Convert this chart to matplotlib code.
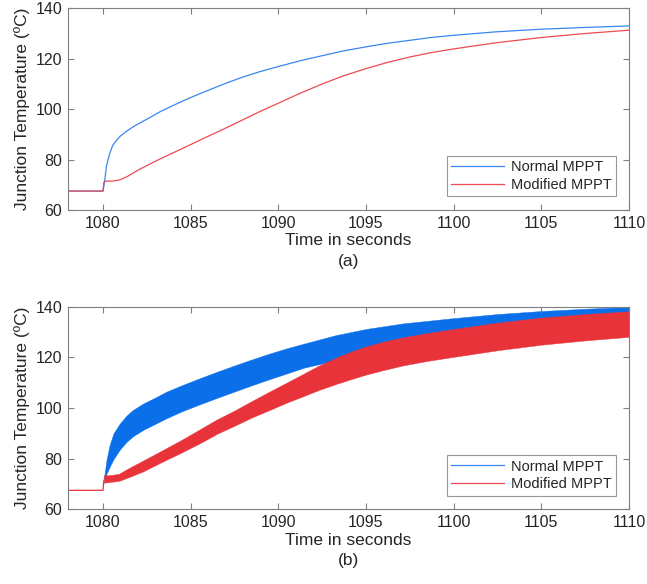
import matplotlib
matplotlib.use("Agg")
import matplotlib.pyplot as plt
from matplotlib.lines import Line2D

plt.rcParams['font.family'] = ['Liberation Sans', 'DejaVu Sans']

# (a) smooth junction temperature traces
t_normal = [1078, 1080.0, 1080.05, 1080.1, 1080.2, 1080.38, 1080.55, 1080.77, 1081.0,
            1081.34, 1081.8, 1082.3, 1082.67, 1083.25, 1084, 1084.57, 1085.15, 1086,
            1087.05, 1088, 1088.95, 1090.1, 1091.3, 1092.5, 1093.7, 1095, 1096.2,
            1097.5, 1098.7, 1100, 1102.5, 1105, 1107.5, 1110]
temp_normal = [67.5, 67.5, 69.5, 71.8, 77.5, 82.3, 85.5, 87.6, 89.3,
               91.2, 93.3, 95.2, 96.6, 98.9, 101.4, 103.2, 105.0, 107.4,
               110.3, 112.7, 114.8, 117.0, 119.2, 121.1, 123.0, 124.6, 126.0,
               127.2, 128.3, 129.2, 130.6, 131.6, 132.3, 132.9]

t_modified = [1078, 1080.0, 1080.05, 1080.2, 1080.5, 1080.95, 1081.4, 1082, 1082.67,
              1083.25, 1084.2, 1085.15, 1086, 1087.05, 1088, 1088.95, 1090.1, 1091.3,
              1092.5, 1093.7, 1095, 1096.2, 1097.5, 1098.7, 1100, 1102.5, 1105,
              1107.5, 1110]
temp_modified = [67.5, 67.5, 71.0, 71.5, 71.4, 71.9, 73.3, 75.8, 78.2,
                 80.2, 83.3, 86.4, 89.2, 92.6, 95.8, 99.0, 102.6, 106.4,
                 109.9, 113.1, 116.0, 118.4, 120.6, 122.3, 123.8, 126.3, 128.3,
                 129.9, 131.2]

# (b) oscillating traces, drawn as upper / lower envelopes
t_pre = [1078, 1080.0, 1080.05]
temp_pre = [67.5, 67.5, 71.5]

t_band_normal = [1080.05, 1080.2, 1080.38, 1080.6, 1080.95, 1081.34, 1081.7, 1082.3, 1083,
                 1083.6, 1084.5, 1085.5, 1086.5, 1087.5, 1088.5, 1089.5, 1090.5, 1091.5,
                 1093.3, 1095, 1097.1, 1100, 1102.5, 1105, 1107.5, 1110]
normal_hi = [72, 79.5, 85.5, 90.0, 93.8, 97.0, 99.2, 101.8, 104.2,
             106.4, 109.0, 111.7, 114.3, 116.8, 119.2, 121.5, 123.6, 125.5,
             128.8, 131.2, 133.4, 135.5, 137.1, 138.3, 139.2, 139.9]
normal_lo = [72, 74.0, 76.8, 79.8, 83.5, 86.6, 88.8, 91.4, 93.8,
             95.9, 98.7, 101.4, 104.0, 106.5, 109.0, 111.4, 113.7, 116.0,
             118.8, 120.8, 123.0, 126.0, 127.8, 129.2, 130.3, 131.2]

t_band_modified = [1080.05, 1080.4, 1080.9, 1081.4, 1082.3, 1083.3, 1084.5, 1085.5, 1086.5,
                   1087.5, 1088.5, 1089.5, 1090.5, 1091.4, 1092.3, 1093.3, 1094.2, 1095,
                   1096, 1097.1, 1098.5, 1100, 1102.5, 1105, 1107.5, 1110]
modified_hi = [73.5, 73.5, 74.0, 76.0, 79.3, 83.0, 87.5, 91.5, 95.5,
               99.0, 102.8, 106.5, 110.1, 113.4, 116.7, 119.9, 122.4, 124.3,
               126.2, 127.9, 129.6, 131.2, 133.7, 135.7, 137.1, 138.2]
modified_lo = [70.5, 70.8, 71.2, 72.5, 75.0, 78.5, 82.5, 86.0, 89.8,
               93.0, 96.3, 99.2, 102.2, 104.6, 107.1, 109.5, 111.5, 113.2,
               115.0, 116.8, 118.6, 120.2, 122.8, 125.0, 126.7, 128.1]

x_ticks = [1080, 1085, 1090, 1095, 1100, 1105, 1110]
y_ticks = [60, 80, 100, 120, 140]

blue = '#0a6fe8'
red = '#e8333a'
line_blue = '#3a86f0'
line_red = '#ee4a50'
axis_col = '#7f7f7f'
text_col = '#262626'

fig = plt.figure(figsize=(6.47, 5.84), dpi=100)
ax1 = fig.add_axes([0.105, 0.6404, 0.867, 0.3459])
ax2 = fig.add_axes([0.105, 0.1279, 0.867, 0.3469])

ax1.plot(t_normal, temp_normal, color=line_blue, lw=0.9, label='Normal MPPT')
ax1.plot(t_modified, temp_modified, color=line_red, lw=0.9, label='Modified MPPT')

ax2.fill_between(t_band_normal, normal_lo, normal_hi, color=blue, lw=0.3, edgecolor=blue)
ax2.fill_between(t_band_modified, modified_lo, modified_hi, color=red, lw=0.3, edgecolor=red)
ax2.plot(t_pre, temp_pre, color=red, lw=0.9)

handles = [Line2D([], [], color=line_blue, lw=0.9), Line2D([], [], color=line_red, lw=0.9)]

for ax, tag in [(ax1, '(a)'), (ax2, '(b)')]:
    ax.set_xlim(1078, 1110)
    ax.set_ylim(60, 140)
    ax.set_xticks(x_ticks)
    ax.set_yticks(y_ticks)
    ax.tick_params(direction='in', top=True, right=True, length=4, width=0.8,
                   color=axis_col, labelcolor=text_col, labelsize=11.5, pad=4)
    for s in ax.spines.values():
        s.set_color(axis_col)
        s.set_linewidth(0.8)
    ax.set_xlabel('Time in seconds\n' + tag, fontsize=12.5, color=text_col,
                  labelpad=2, linespacing=1.45)
    ax.set_ylabel('Junction Temperature (ºC)', fontsize=12.5, color=text_col, labelpad=4)
    leg = ax.legend(handles, ['Normal MPPT', 'Modified MPPT'], loc='lower right',
                    bbox_to_anchor=(0.977, 0.068), fontsize=10.5, frameon=True,
                    fancybox=False, edgecolor=axis_col, handlelength=3.6,
                    borderpad=0.3, labelspacing=0.25, handletextpad=0.5,
                    borderaxespad=0.0)
    leg.get_frame().set_linewidth(0.8)
    for txt in leg.get_texts():
        txt.set_color(text_col)

fig.savefig('out.png', dpi=100)
